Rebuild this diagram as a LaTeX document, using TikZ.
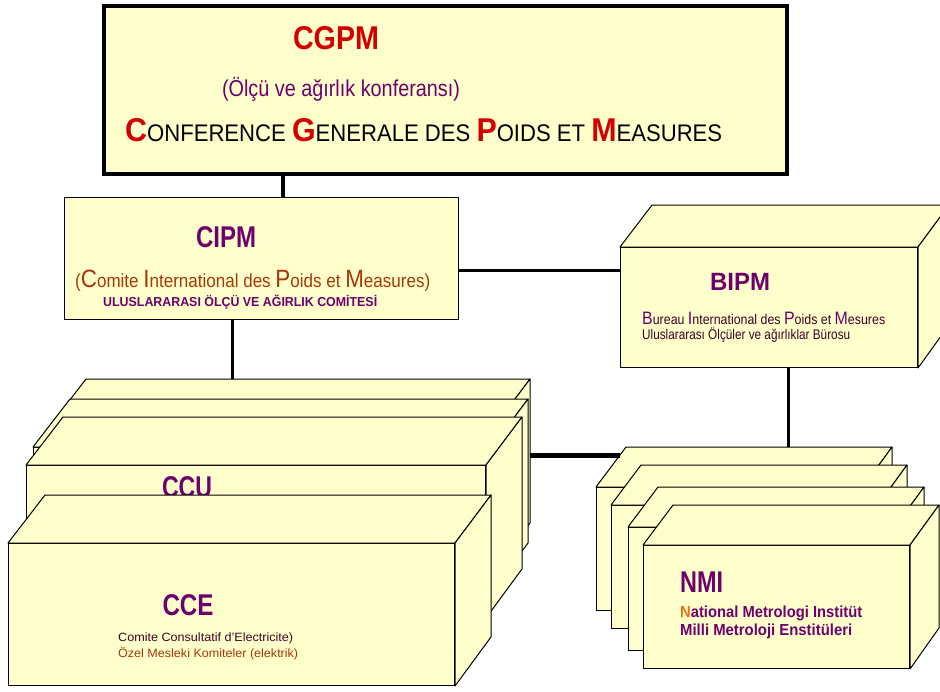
\documentclass[tikz,border=0pt]{standalone}
\usepackage{fontspec}
\setmainfont{Liberation Sans}
\usepackage{graphicx}
\usetikzlibrary{calc}

\definecolor{sari}{RGB}{255,255,204}
\definecolor{mor}{RGB}{110,0,110}
\definecolor{kirmizi}{RGB}{210,0,0}
\definecolor{kahve}{RGB}{165,55,10}
\definecolor{turuncu}{RGB}{225,115,20}
\definecolor{koyu}{RGB}{60,0,40}

% genislige sigdirilmis yazi
\newcommand{\genis}[3]{\resizebox{#1pt}{\height}{\fontsize{#2}{#2}\selectfont #3}}
\newcommand{\bh}[1]{{\fontsize{33}{33}\selectfont\bfseries\color{kirmizi}#1}}
\newcommand{\bu}[1]{{\fontsize{25}{25}\selectfont #1}}
\newcommand{\bb}[1]{{\fontsize{18}{18}\selectfont\color{mor}#1}}

% uc boyutlu kutu: ad, x, y, genislik, yukseklik
\newcommand{\kutu}[5]{%
  \node[yuz, minimum width=#4pt, minimum height=#5pt, anchor=north west] (#1) at (#2,#3) {};
  \filldraw[kenar] (#1.north west) -- ++(\derx,\dery) coordinate (#1-arka)
    -- ++(#4,0) coordinate (#1-sagarka) -- (#1.north east) -- cycle;
  \filldraw[kenar] (#1.north east) -- (#1-sagarka) -- ++(0,#5) -- (#1.south east) -- cycle;
}

\begin{document}
\begin{tikzpicture}[x=1pt,y=-1pt,
  yuz/.style={draw, fill=sari, line width=1pt, inner sep=0pt},
  kenar/.style={draw, fill=sari, line width=1pt, line join=round},
  baglanti/.style={line width=3.5pt},
  yazi/.style={inner sep=0pt, anchor=base}]
    \fill[white] (0,0) rectangle (940,691);
    \useasboundingbox (0,0) rectangle (940,691);
    \clip (0,0) rectangle (940,691);

    % CGPM
    \node[yuz, line width=4pt, minimum width=683pt, minimum height=168pt, anchor=north west] (cgpm) at (102,4) {};
    \node[yazi, text=kirmizi] (cgpmad) at (336,49) {\genis{86}{33}{\bfseries CGPM}};
    \node[yazi, text=mor] (cgpmtr) at (341,96) {\genis{238}{23}{(Ölçü ve ağırlık konferansı)}};
    \node[yazi, anchor=base west] (cgpmfr) at (125,141)
      {\genis{597}{24}{\bh{C}ONFERENCE \bh{G}ENERALE DES \bh{P}OIDS ET \bh{M}EASURES}};

    % CIPM
    \node[yuz, minimum width=394pt, minimum height=122pt, anchor=north west] (cipm) at (64,197) {};
    \node[yazi, text=mor] (cipmad) at (226,247) {\genis{60}{30}{\bfseries CIPM}};
    \node[yazi, anchor=base west, text=kahve] (cipmfr) at (75,287)
      {\genis{355}{19}{(\bu{C}omite \bu{I}nternational des \bu{P}oids et \bu{M}easures)}};
    \node[yazi, anchor=base west, text=mor] (cipmtr) at (103,306)
      {\genis{274}{13}{\bfseries ULUSLARARASI ÖLÇÜ VE AĞIRLIK COMİTESİ}};

    % BIPM
    \def\derx{32}\def\dery{-42}
    \kutu{bipm}{620}{247}{297}{120}
    \node[yazi, text=mor] (bipmad) at (740,290) {\genis{60}{25}{\bfseries BIPM}};
    \node[yazi, anchor=base west, text=koyu] (bipmfr) at (642,324)
      {\genis{243}{14}{\bb{B}ureau \bb{I}nternational des \bb{P}oids et \bb{M}esures}};
    \node[yazi, anchor=base west, text=koyu] (bipmtr) at (642,339)
      {\genis{208}{14}{Uluslararası Ölçüler ve ağırlıklar Bürosu}};

    % danisma komiteleri
    \def\derx{37}\def\dery{-48}
    \kutu{k1}{49}{427}{444}{144}
    \kutu{k2}{33}{447}{458}{144}
    \kutu{k3}{26}{465}{459}{152}
    \node[yazi, text=mor] (ccu) at (187,497) {\genis{50}{30}{\bfseries CCU}};
    \kutu{k4}{8}{543}{446}{142}
    \node[yazi, text=mor] (cce) at (188,615) {\genis{51}{30}{\bfseries CCE}};
    \node[yazi, anchor=base west, text=koyu] (ccefr) at (118,641)
      {\genis{175}{12}{Comite Consultatif d'Electricite)}};
    \node[yazi, anchor=base west, text=kahve] (ccetr) at (118,657)
      {\genis{180}{12}{Özel Mesleki Komiteler (elektrik)}};

    % ulusal enstituler
    \def\derx{30}\def\dery{-40}
    \kutu{n1}{596}{487}{266}{123}
    \kutu{n2}{611}{505}{266}{123}
    \kutu{n3}{628}{527}{266}{123}
    \kutu{n4}{643}{545}{266}{123}
    \node[yazi, anchor=base west, text=mor] (nmi) at (680,592) {\genis{43}{30}{\bfseries NMI}};
    \node[yazi, anchor=base west, text=mor] (nmifr) at (680,617)
      {\genis{182}{16}{\bfseries{\color{turuncu}N}ational Metrologi Institüt}};
    \node[yazi, anchor=base west, text=mor] (nmitr) at (680,635)
      {\genis{172}{16}{\bfseries Milli Metroloji Enstitüleri}};

    % baglantilar
    \draw[baglanti] ([xshift=-162.5pt]cgpm.south) coordinate (u1) -- (u1 |- cipm.north);
    \draw[baglanti] ([yshift=-12pt]cipm.east) coordinate (u2) -- (u2 -| bipm.west);
    \draw[baglanti] ([xshift=-29pt]cipm.south) coordinate (u3) -- (u3 |- k1-arka);
    \draw[baglanti] ([xshift=19.5pt]bipm.south) coordinate (u4) -- (u4 |- n1-arka);
    \draw[line width=5pt] ($(n1.north west)!0.8!(n1-arka)$) coordinate (u5) -- (u5 -| k1-sagarka);

\end{tikzpicture}
\end{document}
